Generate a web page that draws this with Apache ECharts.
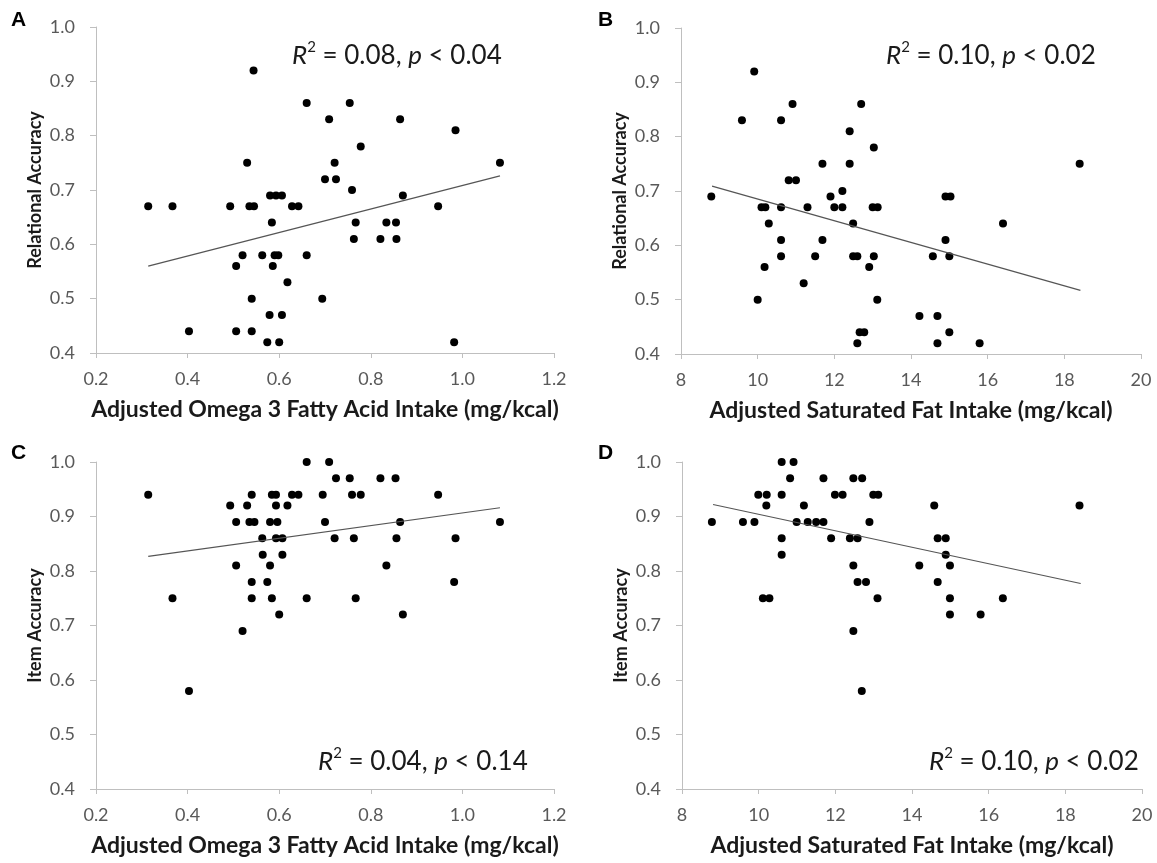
<!DOCTYPE html>
<html>
<head>
<meta charset="utf-8">
<script src="https://cdn.jsdelivr.net/npm/echarts@6/dist/echarts.min.js"></script>
<style>
  html, body { margin: 0; padding: 0; background: #fff; }
  #chart { width: 1157px; height: 863px; }
</style>
</head>
<body>
<div id="chart"></div>
<script>
// panel A: omega 3 vs relational accuracy
var omegaRel = [
  [0.544, 0.92], [0.66, 0.86], [0.754, 0.86], [0.709, 0.83], [0.864, 0.83], [0.985, 0.81],
  [0.778, 0.78], [0.53, 0.75], [0.721, 0.75], [1.082, 0.75], [0.70, 0.72], [0.724, 0.72],
  [0.759, 0.70], [0.58, 0.69], [0.593, 0.69], [0.606, 0.69], [0.87, 0.69],
  [0.314, 0.67], [0.367, 0.67], [0.493, 0.67], [0.535, 0.67], [0.545, 0.67], [0.628, 0.67],
  [0.642, 0.67], [0.947, 0.67], [0.584, 0.64], [0.767, 0.64], [0.834, 0.64], [0.855, 0.64],
  [0.763, 0.61], [0.821, 0.61], [0.856, 0.61], [0.52, 0.58], [0.563, 0.58], [0.59, 0.58],
  [0.598, 0.58], [0.66, 0.58], [0.506, 0.56], [0.586, 0.56], [0.618, 0.53], [0.54, 0.50],
  [0.694, 0.50], [0.579, 0.47], [0.606, 0.47], [0.403, 0.44], [0.506, 0.44], [0.54, 0.44],
  [0.574, 0.42], [0.60, 0.42], [0.982, 0.42]
]
var omegaRelFit = [[0.314, 0.56], [1.082, 0.726]]

// panel B: saturated fat vs relational accuracy
var satRel = [
  [9.91, 0.92], [9.59, 0.83], [10.91, 0.86], [10.61, 0.83], [12.70, 0.86], [12.40, 0.81],
  [13.03, 0.78], [11.69, 0.75], [12.40, 0.75], [18.4, 0.75], [10.81, 0.72], [11.0, 0.72],
  [8.79, 0.69], [11.9, 0.69], [12.21, 0.70], [14.9, 0.69], [15.03, 0.69],
  [10.1, 0.67], [10.2, 0.67], [10.61, 0.67], [11.3, 0.67], [12.0, 0.67], [12.21, 0.67],
  [13.0, 0.67], [13.13, 0.67], [10.29, 0.64], [12.49, 0.64], [16.4, 0.64],
  [10.61, 0.61], [11.69, 0.61], [14.9, 0.61],
  [10.61, 0.58], [11.5, 0.58], [12.49, 0.58], [12.6, 0.58], [13.03, 0.58], [14.57, 0.58], [15.0, 0.58],
  [10.18, 0.56], [12.91, 0.56], [11.2, 0.53], [10.0, 0.50], [13.12, 0.50],
  [14.22, 0.47], [14.69, 0.47], [12.66, 0.44], [12.78, 0.44], [15.0, 0.44],
  [12.6, 0.42], [14.69, 0.42], [15.79, 0.42]
]
var satRelFit = [[8.81, 0.709], [18.42, 0.517]]

// panel C: omega 3 vs item accuracy
var omegaItem = [
  [0.66, 1.0], [0.709, 1.0],
  [0.724, 0.97], [0.754, 0.97], [0.821, 0.97], [0.854, 0.97],
  [0.314, 0.94], [0.54, 0.94], [0.584, 0.94], [0.593, 0.94], [0.628, 0.94], [0.642, 0.94],
  [0.695, 0.94], [0.759, 0.94], [0.778, 0.94], [0.947, 0.94],
  [0.493, 0.92], [0.53, 0.92], [0.593, 0.92], [0.618, 0.92],
  [0.506, 0.89], [0.535, 0.89], [0.546, 0.89], [0.58, 0.89], [0.596, 0.89], [0.70, 0.89],
  [0.864, 0.89], [1.082, 0.89],
  [0.563, 0.86], [0.593, 0.86], [0.607, 0.86], [0.721, 0.86], [0.763, 0.86], [0.856, 0.86], [0.985, 0.86],
  [0.564, 0.83], [0.607, 0.83],
  [0.506, 0.81], [0.58, 0.81], [0.834, 0.81],
  [0.54, 0.78], [0.574, 0.78], [0.982, 0.78],
  [0.367, 0.75], [0.54, 0.75], [0.584, 0.75], [0.66, 0.75], [0.767, 0.75],
  [0.60, 0.72], [0.87, 0.72], [0.52, 0.69], [0.403, 0.58]
]
var omegaItemFit = [[0.314, 0.827], [1.082, 0.916]]

// panel D: saturated fat vs item accuracy
var satItem = [
  [10.6, 1.0], [10.91, 1.0],
  [10.82, 0.97], [11.69, 0.97], [12.47, 0.97], [12.70, 0.97],
  [9.99, 0.94], [10.21, 0.94], [10.6, 0.94], [11.99, 0.94], [12.19, 0.94], [12.99, 0.94], [13.12, 0.94],
  [10.2, 0.92], [11.18, 0.92], [14.58, 0.92], [18.37, 0.92],
  [8.78, 0.89], [9.59, 0.89], [9.89, 0.89], [10.99, 0.89], [11.28, 0.89], [11.5, 0.89], [11.69, 0.89], [12.89, 0.89],
  [10.6, 0.86], [11.89, 0.86], [12.38, 0.86], [12.58, 0.86], [14.67, 0.86], [14.88, 0.86],
  [10.6, 0.83], [14.88, 0.83],
  [12.47, 0.81], [14.19, 0.81], [14.99, 0.81],
  [12.58, 0.78], [12.8, 0.78], [14.67, 0.78],
  [10.11, 0.75], [10.28, 0.75], [13.1, 0.75], [14.99, 0.75], [16.37, 0.75],
  [14.99, 0.72], [15.79, 0.72], [12.47, 0.69], [12.69, 0.58]
]
var satItemFit = [[8.81, 0.922], [18.4, 0.777]]

var omegaTicks = { min: 0.2, max: 1.2, interval: 0.2 }
var satTicks = { min: 8, max: 20, interval: 2 }
var accTicks = { min: 0.4, max: 1.0, interval: 0.1 }

var omegaTitle = 'Adjusted Omega 3 Fatty Acid Intake (mg/kcal)'
var satTitle = 'Adjusted Saturated Fat Intake (mg/kcal)'
var relTitle = 'Relational Accuracy'
var itemTitle = 'Item Accuracy'

var FONT = 'Lato, "Open Sans", sans-serif'
var axisGray = '#bfbfbf'

var panels = [
  { grid: { left: 96, top: 27, width: 458, height: 326 }, x: omegaTicks, xName: omegaTitle, xDec: 1, yName: relTitle, pts: omegaRel, fit: omegaRelFit },
  { grid: { left: 681, top: 28, width: 460, height: 326 }, x: satTicks, xName: satTitle, xDec: 0, yName: relTitle, pts: satRel, fit: satRelFit },
  { grid: { left: 96, top: 462, width: 458, height: 327 }, x: omegaTicks, xName: omegaTitle, xDec: 1, yName: itemTitle, pts: omegaItem, fit: omegaItemFit },
  { grid: { left: 682, top: 462, width: 460, height: 327 }, x: satTicks, xName: satTitle, xDec: 0, yName: itemTitle, pts: satItem, fit: satItemFit }
]

var grids = [], xAxes = [], yAxes = [], series = []
panels.forEach(function (p, i) {
  grids.push(p.grid)
  xAxes.push({
    type: 'value', gridIndex: i,
    min: p.x.min, max: p.x.max, interval: p.x.interval,
    name: p.xName, nameLocation: 'middle', nameGap: 45,
    nameTextStyle: { fontFamily: FONT, fontWeight: 'bold', fontSize: 23, color: '#1a1a1a' },
    axisLine: { lineStyle: { color: axisGray, width: 1 } },
    axisTick: { show: true, length: 5, lineStyle: { color: axisGray } },
    splitLine: { show: false },
    axisLabel: {
      fontFamily: FONT, fontSize: 18, color: '#595959', margin: 17,
      formatter: (function (d) { return function (v) { return v.toFixed(d) } })(p.xDec)
    }
  })
  yAxes.push({
    type: 'value', gridIndex: i,
    min: accTicks.min, max: accTicks.max, interval: accTicks.interval,
    name: p.yName, nameLocation: 'middle', nameGap: 52,
    nameTextStyle: { fontFamily: FONT, fontWeight: 'bold', fontSize: 18, color: '#1a1a1a' },
    axisLine: { show: true, lineStyle: { color: axisGray, width: 1 } },
    axisTick: { show: true, length: 6, lineStyle: { color: axisGray } },
    splitLine: { show: false },
    axisLabel: {
      fontFamily: FONT, fontSize: 18, color: '#595959', margin: 21,
      formatter: function (v) { return v.toFixed(1) }
    }
  })
  series.push({
    type: 'scatter', xAxisIndex: i, yAxisIndex: i,
    symbolSize: 8, itemStyle: { color: '#000', opacity: 1 },
    data: p.pts
  })
  series.push({
    type: 'line', xAxisIndex: i, yAxisIndex: i,
    symbol: 'none', lineStyle: { color: '#555', width: 1.2 },
    data: p.fit
  })
})

var richStyle = {
  i: { fontFamily: FONT, fontSize: 26, fontStyle: 'italic', fill: '#1a1a1a', lineHeight: 32 },
  n: { fontFamily: FONT, fontSize: 26, fill: '#1a1a1a', lineHeight: 32 },
  s: { fontFamily: FONT, fontSize: 15, fill: '#1a1a1a', lineHeight: 15, verticalAlign: 'top' }
}
function statText (x, y, r2, p) {
  return {
    type: 'text', left: x, top: y,
    style: {
      text: '{i|R}{s|2}{n| = ' + r2 + ', }{i|p}{n| < ' + p + '}',
      rich: richStyle
    }
  }
}
function letter (x, y, t) {
  return {
    type: 'text', left: x, top: y,
    style: { text: t, font: 'bold 21px "Liberation Sans", Arial, sans-serif', fill: '#000' }
  }
}

var chart = echarts.init(document.getElementById('chart'))
chart.setOption({
  backgroundColor: '#fff',
  animation: false,
  grid: grids,
  xAxis: xAxes,
  yAxis: yAxes,
  series: series,
  graphic: [
    letter(11, 10, 'A'), letter(598, 10, 'B'), letter(11, 443, 'C'), letter(598, 443, 'D'),
    statText(292, 40, '0.08', '0.04'),
    statText(886, 40, '0.10', '0.02'),
    statText(318, 746, '0.04', '0.14'),
    statText(929, 746, '0.10', '0.02')
  ]
})
</script>
</body>
</html>
